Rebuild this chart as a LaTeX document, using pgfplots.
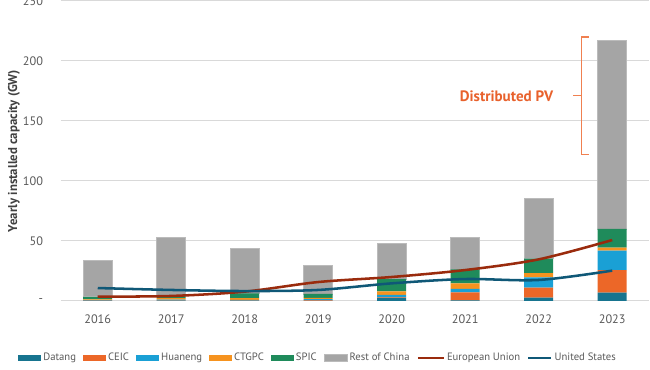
\documentclass[border=0pt]{standalone}
\usepackage{fontspec}
\setmainfont{PT Sans}
\usepackage{pgfplots}
\pgfplotsset{compat=1.18}
\definecolor{datang}{HTML}{17748F}
\definecolor{ceic}{HTML}{EC6728}
\definecolor{huaneng}{HTML}{1AA0D5}
\definecolor{ctgpc}{HTML}{F6931F}
\definecolor{spic}{HTML}{1F8B5B}
\definecolor{rest}{HTML}{A5A5A5}
\definecolor{restedge}{HTML}{BBBBBB}
\definecolor{eu}{HTML}{9A2B0D}
\definecolor{us}{HTML}{0F5877}
\definecolor{txt}{HTML}{595959}
\definecolor{lbl}{HTML}{404040}
\definecolor{gridc}{HTML}{D9D9D9}
\definecolor{anno}{HTML}{E8612C}
\definecolor{bracec}{HTML}{F08050}
\pgfplotsset{common/.style={
  width=441pt, height=225pt, scale only axis,
  xmin=2015.5, xmax=2023.5, ymin=0, ymax=250, enlargelimits=false}}
\begin{document}
\begin{tikzpicture}
\begin{axis}[common, ybar stacked, bar width=21.75pt,
  axis line style={draw=none}, major tick length=0pt,
  ymajorgrids, grid style={draw=gridc, line width=0.75pt},
  xtick={2016,2017,2018,2019,2020,2021,2022,2023},
  xticklabels={2016,2017,2018,2019,2020,2021,2022,2023},
  ytick={0,50,100,150,200,250},
  yticklabels={-,50,100,150,200,250},
  tick label style={font=\fontsize{9.2}{11}\selectfont, text=txt},
  xticklabel style={yshift=-7pt},
  yticklabel style={xshift=-10pt},
  ylabel={Yearly installed capacity (GW)},
  y label style={at={(axis description cs:-0.08,0.5)}, anchor=center,
    font=\bfseries\fontsize{9.6}{11}\selectfont, text=lbl},
  legend image code/.code={\fill[#1] (0pt,-2.6pt) rectangle (17.25pt,2.6pt);},
  legend style={at={(axis description cs:-0.0731,-0.19)}, anchor=west,
    draw=none, fill=none, legend columns=-1, inner sep=0pt,
    font=\fontsize{8}{10}\selectfont, text=txt,
    /tikz/every even column/.append style={column sep=3.8pt},
    nodes={inner xsep=1.5pt, inner ysep=0pt}},
]
\addplot[fill=datang, draw=none] coordinates {(2016,0.3) (2017,0.3) (2018,0.3) (2019,0.2) (2020,2.5) (2021,0.5) (2022,2.8) (2023,6.9)};
\addlegendentry{Datang}
\addplot[fill=ceic, draw=none] coordinates {(2016,0.2) (2017,0.3) (2018,0.3) (2019,0.3) (2020,0.5) (2021,6.7) (2022,8.3) (2023,18.9)};
\addlegendentry{CEIC}
\addplot[fill=huaneng, draw=none] coordinates {(2016,0.3) (2017,0.5) (2018,0.4) (2019,1.0) (2020,2.0) (2021,2.8) (2022,8.6) (2023,16.1)};
\addlegendentry{Huaneng}
\addplot[fill=ctgpc, draw=none] coordinates {(2016,0.5) (2017,1.2) (2018,1.3) (2019,1.2) (2020,3.0) (2021,4.7) (2022,3.6) (2023,2.5)};
\addlegendentry{CTGPC}
\addplot[fill=spic, draw=none] coordinates {(2016,2.2) (2017,2.5) (2018,4.0) (2019,3.2) (2020,10.3) (2021,11.7) (2022,12.0) (2023,15.6)};
\addlegendentry{SPIC}
\addplot[fill=rest, draw=restedge, line width=0.6pt] coordinates {(2016,30.5) (2017,48.0) (2018,37.6) (2019,23.5) (2020,30.0) (2021,26.4) (2022,50.5) (2023,156.9)};
\addlegendentry{Rest of China}
\addlegendimage{legend image code/.code={\draw[eu, line width=1.8pt] (0pt,0pt) -- (19.5pt,0pt);}}
\addlegendentry{European Union}
\addlegendimage{legend image code/.code={\draw[us, line width=1.8pt] (0pt,0pt) -- (17.25pt,0pt);}}
\addlegendentry{United States}
\end{axis}
\begin{axis}[common, hide axis]
\addplot[eu, line width=1.9pt, smooth] coordinates {(2016,3.6) (2017,4.2) (2018,7.8) (2019,15.8) (2020,20.0) (2021,25.8) (2022,34.7) (2023,50.8)};
\addplot[us, line width=1.9pt, smooth] coordinates {(2016,10.8) (2017,9.2) (2018,8.3) (2019,9.2) (2020,14.7) (2021,18.3) (2022,17.5) (2023,25.3)};
\node[anchor=east, text=anno, font=\bfseries\fontsize{11.3}{13}\selectfont] at (axis cs:2022.26,171) {Distributed PV};
\draw[bracec, line width=1pt] (axis cs:2022.68,220) -- (axis cs:2022.58,220) -- (axis cs:2022.58,122) -- (axis cs:2022.68,122);
\draw[bracec, line width=1pt] (axis cs:2022.58,171) -- (axis cs:2022.47,171);
\end{axis}
\pgfresetboundingbox
\path[use as bounding box] (-45.75pt,-51.75pt) rectangle (441.75pt,225.75pt);
\end{tikzpicture}
\end{document}
